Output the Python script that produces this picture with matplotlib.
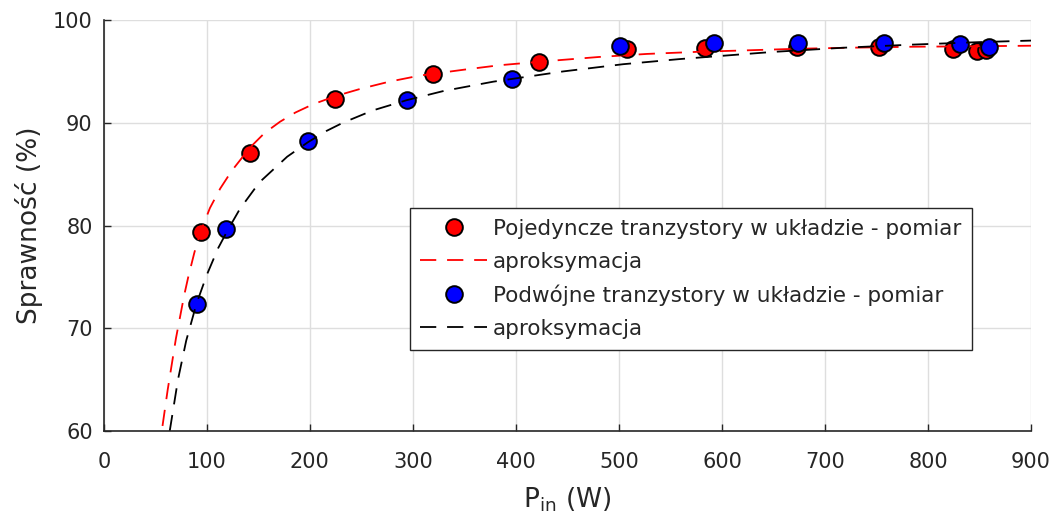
import numpy as np
import matplotlib
matplotlib.use('Agg')
import matplotlib.pyplot as plt

# measured points
red_x = [94, 142, 224, 320, 422, 508, 584, 673, 752, 824, 848, 856]
red_y = [79.4, 87.1, 92.3, 94.7, 95.9, 97.2, 97.3, 97.4, 97.4, 97.2, 97.0, 97.1]
blue_x = [90, 119, 198, 294, 396, 501, 592, 674, 757, 831, 859]
blue_y = [72.4, 79.7, 88.2, 92.2, 94.3, 97.5, 97.8, 97.8, 97.8, 97.7, 97.4]

# approximation curves
red_fit_x = [57, 62, 66, 70, 74, 78, 82, 88, 94, 103, 113, 124, 142, 156, 171,
             186, 203, 225, 249, 277, 307, 352, 384, 430, 480, 527, 575, 624,
             672, 721, 785, 850, 900]
red_fit_y = [60.5, 64.0, 66.5, 69.0, 71.1, 73.2, 75.0, 77.4, 79.4, 81.7, 83.6,
             85.3, 87.6, 89.0, 90.1, 91.0, 91.8, 92.6, 93.3, 94.0, 94.6, 95.2,
             95.6, 96.0, 96.4, 96.7, 96.9, 97.05, 97.2, 97.3, 97.4, 97.45, 97.5]
blk_fit_x = [64, 72, 80, 90, 100, 111, 120, 132, 151, 178, 198, 216, 232, 261,
             294, 330, 378, 446, 504, 559, 598, 650, 717, 783, 850, 900]
blk_fit_y = [60.0, 65.0, 68.8, 72.4, 75.2, 77.8, 79.5, 81.6, 84.2, 86.7, 88.1,
             89.2, 90.0, 91.2, 92.2, 93.1, 94.0, 95.0, 95.7, 96.2, 96.5, 96.9,
             97.3, 97.6, 97.85, 98.0]

labels = ['Pojedyncze tranzystory w układzie - pomiar', 'aproksymacja',
          'Podwójne tranzystory w układzie - pomiar', 'aproksymacja']

plt.rcParams['font.family'] = ['DejaVu Sans']
dark = '#262626'

fig = plt.figure(figsize=(10.59, 5.27), dpi=100)
ax = fig.add_axes([0.098, 0.182, 0.8756, 0.780])

ax.grid(True, color='#dedede', linewidth=1.0)
ax.set_axisbelow(True)

dash = (9, 6)
r1, = ax.plot(red_x, red_y, 'o', color='red', mec='black', mew=1.4, ms=12, ls='')
r2, = ax.plot(red_fit_x, red_fit_y, color='red', lw=1.3, ls=(0, dash))
b1, = ax.plot(blue_x, blue_y, 'o', color='blue', mec='black', mew=1.4, ms=12, ls='')
b2, = ax.plot(blk_fit_x, blk_fit_y, color='black', lw=1.3, ls=(0, dash))

ax.set_xlim(0, 900)
ax.set_ylim(60, 100)
ax.set_xticks(np.arange(0, 901, 100))
ax.set_yticks(np.arange(60, 101, 10))
ax.tick_params(direction='in', length=5, width=1, colors=dark, labelsize=15)
ax.tick_params(axis='x', pad=15)
ax.tick_params(axis='y', pad=8)
for s in ['top', 'right']:
  ax.spines[s].set_visible(False)
for s in ['left', 'bottom']:
  ax.spines[s].set_color(dark)
  ax.spines[s].set_linewidth(1.2)

ax.set_xlabel('P$_{\\mathregular{in}}$ (W)', fontsize=19, color=dark, labelpad=10)
ax.set_ylabel('Sprawność (%)', fontsize=19, color=dark, labelpad=7)

leg = ax.legend([r1, r2, b1, b2], labels, loc='upper right',
                bbox_to_anchor=(0.936, 0.543), borderaxespad=0, fontsize=15.5,
                handlelength=3.1, labelspacing=0.6, handletextpad=0.25,
                borderpad=0.5, fancybox=False, framealpha=1, edgecolor=dark)
leg.get_frame().set_linewidth(1.0)
for t in leg.get_texts():
  t.set_color(dark)

plt.savefig('out.png', dpi=100)
plt.close('all')
